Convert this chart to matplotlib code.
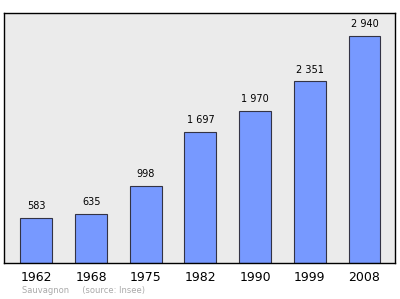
import matplotlib.pyplot as plt

years = ["1962", "1968", "1975", "1982", "1990", "1999", "2008"]
population = [583, 635, 998, 1697, 1970, 2351, 2940]
value_labels = ["583", "635", "998", "1 697", "1 970", "2 351", "2 940"]

fig = plt.figure(figsize=(4, 2.99), dpi=100)
ax = fig.add_axes([0.01, 0.1204, 0.9775, 0.8361])
ax.set_facecolor("#ebebeb")

x = range(len(years))
ax.bar(x, population, width=0.585, color="#7799ff", edgecolor="#333344", linewidth=0.8)

for i, v in enumerate(population):
    ax.text(i, v + 90, value_labels[i], ha="center", va="bottom", fontsize=7)

ax.set_xlim(-0.594, 6.558)
ax.set_ylim(0, 3238)
ax.set_yticks([])
ax.set_xticks(list(x))
ax.set_xticklabels(years, fontsize=9)
ax.tick_params(axis="x", length=0, pad=6)
for s in ax.spines.values():
    s.set_linewidth(1.0)

fig.text(0.055, 0.02, "Sauvagnon     (source: Insee)", fontsize=6, color="#aaaaaa")

fig.savefig("out.png", dpi=100)
